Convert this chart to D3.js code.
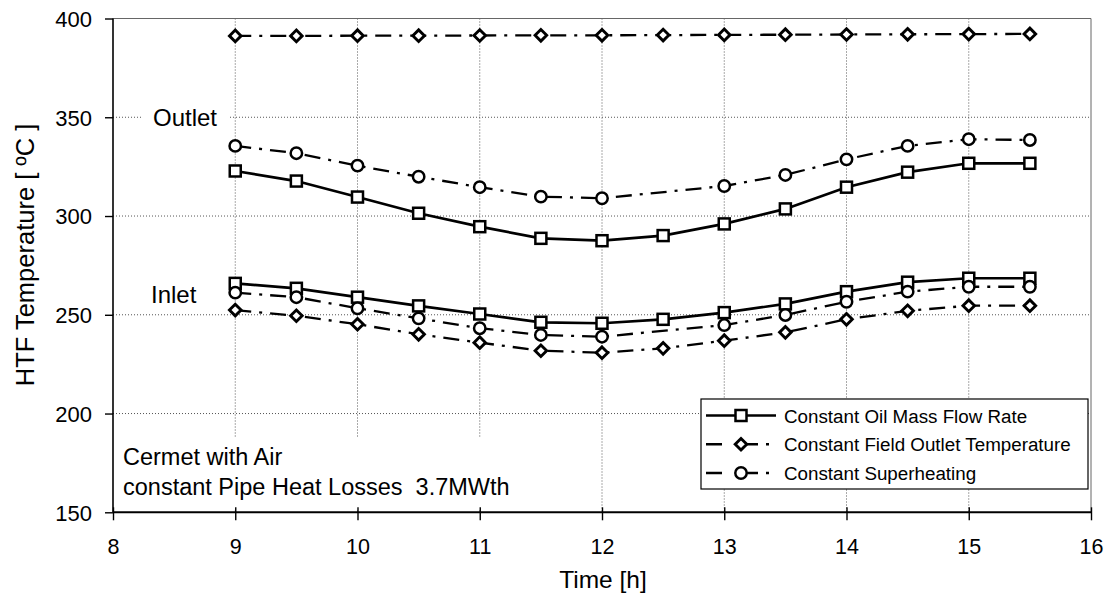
<!DOCTYPE html>
<html>
<head>
<meta charset="utf-8">
<script src="https://cdn.jsdelivr.net/npm/d3@7/dist/d3.min.js"></script>
<style>
  html, body { margin: 0; padding: 0; background: #fff; }
  svg { display: block; font-family: "Liberation Sans", Arial, sans-serif; }
  text { white-space: pre; }
</style>
</head>
<body>
<svg id="chart" width="1114" height="606"></svg>
<script>
// Time of day [h]
const hours = [9, 9.5, 10, 10.5, 11, 11.5, 12, 12.5, 13, 13.5, 14, 14.5, 15, 15.5];

// Constant oil mass flow rate: outlet / inlet HTF temperature [°C]
const oilOutlet = [322.8, 317.7, 309.6, 301.4, 294.6, 288.7, 287.5, 290.1, 296.0, 303.6, 314.6, 322.2, 326.7, 326.7];
const oilInlet  = [265.9, 263.4, 258.9, 254.5, 250.4, 246.2, 245.7, 247.7, 251.1, 255.5, 261.7, 266.5, 268.5, 268.5];

// Constant field outlet temperature
const fieldOutlet = [391.2, 391.2, 391.3, 391.3, 391.4, 391.5, 391.5, 391.6, 391.7, 391.8, 391.9, 392.0, 392.1, 392.2];
const fieldInlet  = [252.4, 249.5, 245.2, 240.1, 235.9, 231.8, 230.8, 233.0, 236.9, 241.1, 247.7, 252.0, 254.6, 254.6];

// Constant superheating (no value at 12.5 h)
const superOutlet = [335.5, 331.8, 325.5, 319.9, 314.6, 309.8, 309.0, null, 315.2, 320.8, 328.7, 335.5, 338.9, 338.5];
const superInlet  = [261.2, 258.9, 253.3, 248.2, 243.2, 239.8, 238.9, null, 244.8, 249.9, 256.6, 261.7, 264.2, 264.2];

const xTicks = [8, 9, 10, 11, 12, 13, 14, 15, 16];
const yTicks = [150, 200, 250, 300, 350, 400];

const legendLabels = ["Constant Oil Mass Flow Rate", "Constant Field Outlet Temperature", "Constant Superheating"];
const annotationLines = ["Cermet with Air", "constant Pipe Heat Losses  3.7MWth"];

const svg = d3.select("#chart");
const plotLeft = 113, plotRight = 1091, plotTop = 18.5, plotBottom = 512.3;

const x = d3.scaleLinear().domain([8, 16]).range([plotLeft, plotRight]);
const y = d3.scaleLinear().domain([150, 400]).range([plotBottom, plotTop]);

// gridlines
const grid = svg.append("g").attr("stroke", "#555").attr("stroke-width", 1).attr("stroke-dasharray", "1,2");
grid.selectAll("line.v").data(xTicks.slice(1, -1)).join("line").attr("class", "v")
  .attr("x1", d => x(d)).attr("x2", d => x(d)).attr("y1", plotTop).attr("y2", plotBottom);
grid.selectAll("line.h").data(yTicks.slice(1, -1)).join("line").attr("class", "h")
  .attr("x1", plotLeft).attr("x2", plotRight).attr("y1", d => y(d)).attr("y2", d => y(d));

// plot frame (top/right)
svg.append("path")
  .attr("d", `M${plotLeft},${plotTop}H${plotRight}V${plotBottom}`)
  .attr("fill", "none").attr("stroke", "#666").attr("stroke-width", 1);

// text boxes that sit on the grid
const labelFont = 24;
svg.append("rect").attr("x", 143).attr("y", 104).attr("width", 85).attr("height", 26).attr("fill", "#fff");
svg.append("text").attr("x", 153).attr("y", 126).attr("font-size", labelFont).text("Outlet");
svg.append("text").attr("x", 151).attr("y", 302.7).attr("font-size", labelFont).text("Inlet");

svg.append("rect").attr("x", 115).attr("y", 437).attr("width", 412).attr("height", 73).attr("fill", "#fff");
svg.selectAll("text.note").data(annotationLines).join("text")
  .attr("class", "note")
  .attr("x", 123).attr("y", (d, i) => 465 + i * 30)
  .attr("font-size", 23.5).text(d => d);

// axes
const xAxis = d3.axisBottom(x).tickValues(xTicks).tickSize(0).tickPadding(0).tickFormat(d3.format("d"));
const gx = svg.append("g").attr("transform", `translate(0,${plotBottom})`).call(xAxis);
gx.select(".domain").remove();
gx.selectAll(".tick line").remove();
gx.selectAll(".tick").append("line").attr("y1", -5).attr("y2", 8).attr("stroke", "#000").attr("stroke-width", 1.4);
gx.selectAll(".tick text").attr("y", 41.5).attr("dy", null).attr("font-size", 21.5).attr("fill", "#000")
  .attr("font-family", "Liberation Sans, Arial, sans-serif");

const yAxis = d3.axisLeft(y).tickValues(yTicks).tickSize(0).tickPadding(0).tickFormat(d3.format("d"));
const gy = svg.append("g").attr("transform", `translate(${plotLeft},0)`).call(yAxis);
gy.select(".domain").remove();
gy.selectAll(".tick line").remove();
gy.selectAll(".tick").append("line").attr("x1", -8).attr("x2", 0).attr("stroke", "#000").attr("stroke-width", 1.4);
gy.selectAll(".tick text").attr("x", -21).attr("dy", "0.36em").attr("font-size", 22).attr("fill", "#000")
  .attr("font-family", "Liberation Sans, Arial, sans-serif");

svg.append("line").attr("x1", plotLeft).attr("x2", plotLeft).attr("y1", plotTop).attr("y2", plotBottom).attr("stroke", "#000").attr("stroke-width", 1.6);
svg.append("line").attr("x1", plotLeft).attr("x2", plotRight).attr("y1", plotBottom).attr("y2", plotBottom).attr("stroke", "#000").attr("stroke-width", 2);

// axis titles
svg.append("text").attr("x", 603).attr("y", 588).attr("text-anchor", "middle").attr("font-size", 24.5).text("Time [h]");
svg.append("text").attr("transform", "translate(33.5,255) rotate(-90)").attr("text-anchor", "middle")
  .attr("font-size", 25.5).text("HTF Temperature [ ºC ]");

// series
const dashDot = "16,8,3,8";
const series = [
  { values: oilOutlet, marker: "square", dash: null },
  { values: oilInlet, marker: "square", dash: null },
  { values: fieldOutlet, marker: "diamond", dash: dashDot },
  { values: fieldInlet, marker: "diamond", dash: dashDot },
  { values: superOutlet, marker: "circle", dash: dashDot },
  { values: superInlet, marker: "circle", dash: dashDot }
];

const line = d3.line().x(d => x(d[0])).y(d => y(d[1]));

function drawMarker(g, kind, cx, cy) {
  if (kind === "square") {
    g.append("rect").attr("x", cx - 5.5).attr("y", cy - 5.5).attr("width", 11).attr("height", 11)
      .attr("fill", "#fff").attr("stroke", "#000").attr("stroke-width", 2.5);
  } else if (kind === "circle") {
    g.append("circle").attr("cx", cx).attr("cy", cy).attr("r", 5.7)
      .attr("fill", "#fff").attr("stroke", "#000").attr("stroke-width", 2.5);
  } else {
    const r = 5.8;
    g.append("path").attr("d", `M${cx},${cy - r}L${cx + r},${cy}L${cx},${cy + r}L${cx - r},${cy}Z`)
      .attr("fill", "#fff").attr("stroke", "#000").attr("stroke-width", 2.9);
  }
}

const gSeries = svg.append("g");
series.forEach(s => {
  const pts = hours.map((h, i) => [h, s.values[i]]).filter(p => p[1] != null);
  gSeries.append("path").datum(pts).attr("d", line)
    .attr("fill", "none").attr("stroke", "#000").attr("stroke-width", s.dash ? 2.3 : 2.7)
    .attr("stroke-dasharray", s.dash);
  pts.forEach(p => drawMarker(gSeries, s.marker, x(p[0]), y(p[1])));
});

// legend
const lg = svg.append("g");
lg.append("rect").attr("x", 701).attr("y", 399).attr("width", 387).attr("height", 90)
  .attr("fill", "#fff").attr("stroke", "#000").attr("stroke-width", 1.2);
const legendKinds = [{ marker: "square", dash: null }, { marker: "diamond", dash: dashDot }, { marker: "circle", dash: dashDot }];
legendKinds.forEach((k, i) => {
  const ly = 415.5 + i * 28.75;
  lg.append("line").attr("x1", 706).attr("x2", 776).attr("y1", ly).attr("y2", ly)
    .attr("stroke", "#000").attr("stroke-width", k.dash ? 2.3 : 2.7)
    .attr("stroke-dasharray", k.dash ? "16,20,16,8,3,8" : null);
  drawMarker(lg, k.marker, 741, ly);
  lg.append("text").attr("x", 784).attr("y", ly + 7).attr("font-size", 18.8).text(legendLabels[i]);
});
</script>
</body>
</html>
